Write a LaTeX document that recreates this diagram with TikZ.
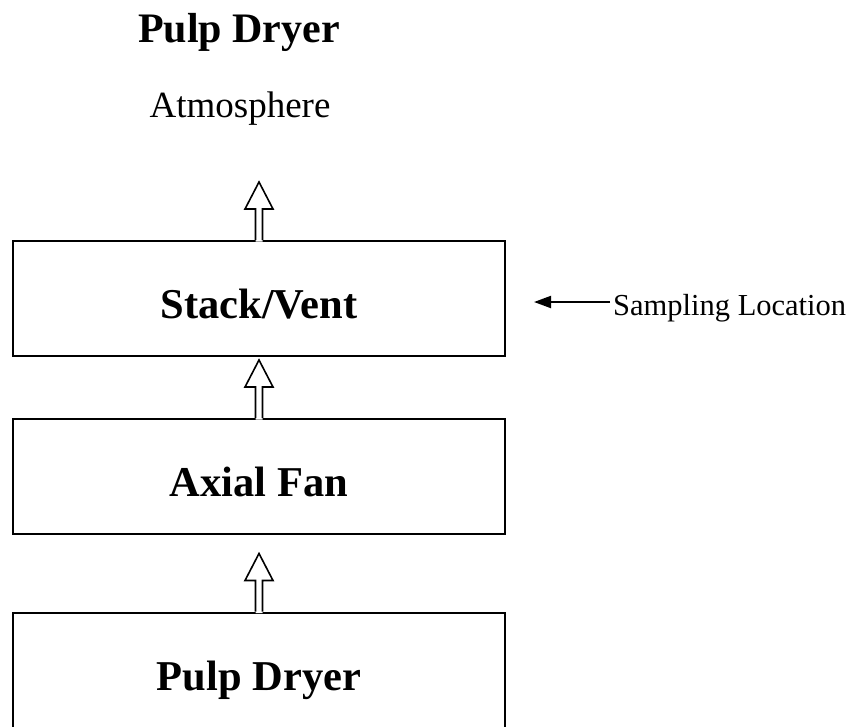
\documentclass[tikz,border=0pt]{standalone}
\usepackage{fontspec}
\setmainfont{Liberation Serif}
\usetikzlibrary{arrows.meta,calc}

% hollow block arrow rising from the top edge of a box
\newcommand\flowarrow[1]{%
  \fill[white] ($(#1.north)+(-3.5,1.5)$) -- ++(0,-32.5) -- ++(-10.5,0)
      -- ++(14,-27) -- ++(14,27) -- ++(-10.5,0) -- ++(0,32.5) -- cycle;
  \draw[blockline] ($(#1.north)+(-3.5,0)$) -- ++(0,-31) -- ++(-10.5,0)
      -- ++(14,-27) -- ++(14,27) -- ++(-10.5,0) -- ++(0,31);
}

\begin{document}
\begin{tikzpicture}[x=1pt,y=-1pt,
  unitbox/.style={draw,line width=2pt,minimum width=492pt,minimum height=115pt,
    inner sep=0pt,text height=40pt,text depth=0pt,
    font=\fontsize{42.5}{48}\selectfont\bfseries},
  blockline/.style={line width=1.6pt,line join=miter},
  label/.style={inner sep=0pt,anchor=base}]

  \useasboundingbox (0,0) rectangle (866,726);

  % process chain
  \node[unitbox] (stack) at (259,298.5) {Stack/Vent};
  \node[unitbox] (fan)   at (259,476.5) {Axial Fan};
  \node[unitbox] (dryer) at (259,670)   {Pulp Dryer};

  % headings
  \node[label,font=\fontsize{42}{48}\selectfont\bfseries] (title) at (239,42) {Pulp Dryer};
  \node[label,font=\fontsize{37}{44}\selectfont] (atm) at (240,117) {Atmosphere};

  % flow between units
  \flowarrow{dryer}
  \flowarrow{fan}
  \flowarrow{stack}

  % sampling point
  \node[inner sep=0pt,anchor=base west,font=\fontsize{30.5}{37}\selectfont]
    (samp) at (613,315) {Sampling Location};
  \coordinate (samptail) at ($(samp.base west)+(-3,-13)$);
  \coordinate (samptip) at ($(stack.east)+(28,0)$);
  \draw[line width=2pt,-{Stealth[length=17pt,width=12pt,inset=0pt]}]
    (samptail) -- (samptip |- samptail);
\end{tikzpicture}
\end{document}
